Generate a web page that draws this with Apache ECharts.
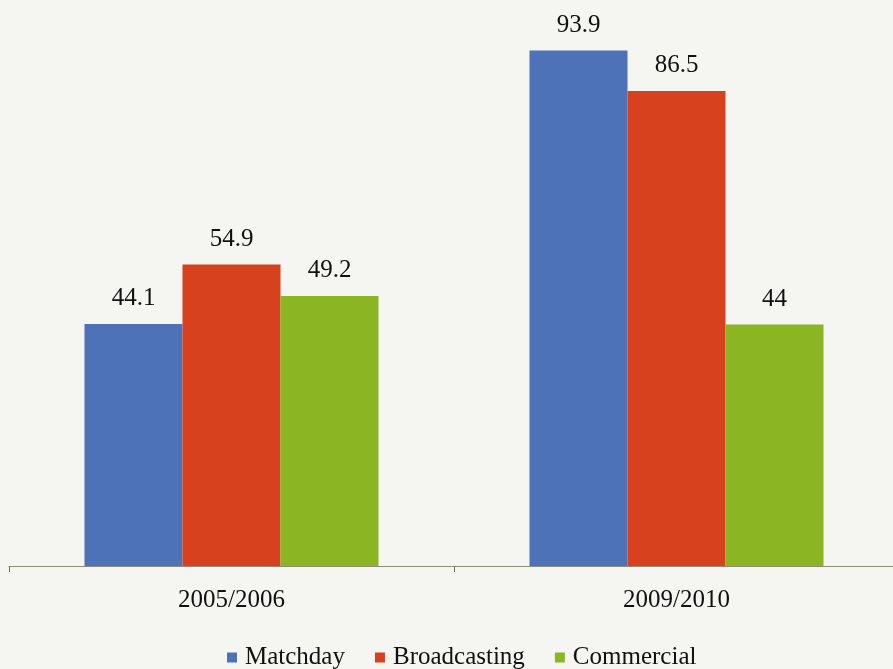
<!DOCTYPE html>
<html>
<head>
<meta charset="utf-8">
<style>
  html, body { margin: 0; padding: 0; background: #f5f5f1; }
  #chart { width: 893px; height: 669px; }
</style>
<script src="https://cdn.jsdelivr.net/npm/echarts@6/dist/echarts.min.js"></script>
</head>
<body>
<div id="chart"></div>
<script>
// Revenue by stream for two seasons
const seasons = ['2005/2006', '2009/2010'];
const matchday = [44.1, 93.9];
const broadcasting = [54.9, 86.5];
const commercial = [49.2, 44];

const seriesNames = ['Matchday', 'Broadcasting', 'Commercial'];
const seriesColors = ['#4e72b8', '#d8411d', '#8bb523'];
const seriesData = [matchday, broadcasting, commercial];

const font = '"Liberation Serif", "Times New Roman", serif';

const chart = echarts.init(document.getElementById('chart'), null, { renderer: 'canvas' });

chart.setOption({
  backgroundColor: '#f5f5f1',
  animation: false,
  textStyle: { fontFamily: font },
  grid: { left: 9, top: 17, width: 890, bottom: 103, containLabel: false, outerBoundsMode: 'none' },
  legend: {
    data: seriesNames,
    top: 640,
    left: 222,
    icon: 'rect',
    itemWidth: 10,
    itemHeight: 10,
    itemGap: 30,
    textStyle: { fontFamily: font, fontSize: 25, color: '#111', padding: [0, 0, 0, 3] }
  },
  xAxis: {
    type: 'category',
    data: seasons,
    axisLine: { lineStyle: { color: '#8c8c78', width: 1 } },
    axisTick: { show: true, alignWithLabel: false, length: 6, lineStyle: { color: '#6f6f66' } },
    axisLabel: { fontFamily: font, fontSize: 25, color: '#111', margin: 22 }
  },
  yAxis: {
    type: 'value',
    min: 0,
    max: 100,
    show: false,
    splitLine: { show: false }
  },
  series: seriesNames.map((name, i) => ({
    name: name,
    type: 'bar',
    data: seriesData[i],
    barWidth: 98,
    barGap: '0%',
    itemStyle: { color: seriesColors[i] },
    label: {
      show: true,
      position: 'top',
      distance: 13,
      fontFamily: font,
      fontSize: 25,
      color: '#111'
    }
  }))
});
</script>
</body>
</html>
